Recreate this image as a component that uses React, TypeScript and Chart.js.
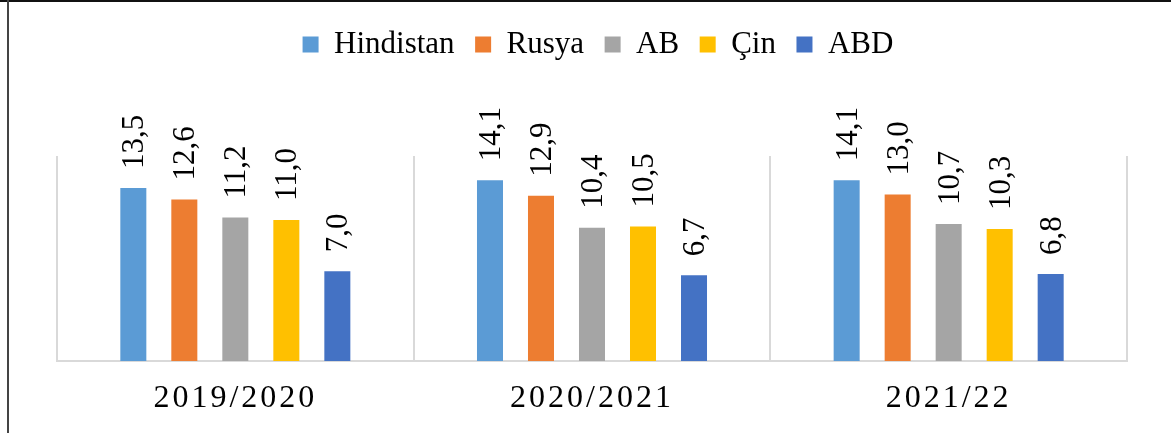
import React, { useEffect, useRef } from "react";
import { Chart, registerables, CategoryScale } from "chart.js";

Chart.register(...registerables);

class SpacedCategoryScale extends CategoryScale {
  static id = "spacedCategory";
  static defaults = CategoryScale.defaults;
  drawLabels(chartArea: any) {
    const ctx: any = this.ctx;
    ctx.save();
    ctx.letterSpacing = "3px";
    super.drawLabels(chartArea);
    ctx.restore();
  }
}
Chart.register(SpacedCategoryScale as any);

const categories = ["2019/2020", "2020/2021", "2021/22"];
const seriesNames = ["Hindistan", "Rusya", "AB", "Çin", "ABD"];
const hindistan = [13.5, 14.1, 14.1];
const rusya = [12.6, 12.9, 13.0];
const ab = [11.2, 10.4, 10.7];
const cin = [11.0, 10.5, 10.3];
const abd = [7.0, 6.7, 6.8];
const seriesValues = [hindistan, rusya, ab, cin, abd];
const seriesColors = ["#5B9BD5", "#ED7D31", "#A5A5A5", "#FFC000", "#4472C4"];
const yMin = 0;
const yMax = 16;

const FONT = "'Times New Roman', 'Liberation Serif', serif";

const fmt = (v: number) => v.toFixed(1).replace(".", ",");

const valueLabels = {
  id: "valueLabels",
  afterDatasetsDraw(chart: any) {
    const ctx = chart.ctx;
    chart.data.datasets.forEach((ds: any, di: number) => {
      const meta = chart.getDatasetMeta(di);
      meta.data.forEach((el: any, i: number) => {
        const v = ds.data[i];
        ctx.save();
        ctx.translate(el.x, el.y - 19);
        ctx.rotate(-Math.PI / 2);
        ctx.font = `31px ${FONT}`;
        ctx.fillStyle = "#000";
        ctx.textAlign = "left";
        ctx.textBaseline = "alphabetic";
        ctx.fillText(fmt(v), 0, 10);
        ctx.restore();
      });
    });
  },
};

const legendSpacer = {
  id: "legendSpacer",
  afterInit(chart: any) {
    const legend = chart.legend;
    if (!legend) return;
    const origFit = legend.fit;
    legend.fit = function () {
      origFit.call(this);
      this.height = 156;
    };
    const origDraw = legend.draw;
    legend.draw = function (...args: any[]) {
      const ctx = chart.ctx;
      ctx.save();
      ctx.translate(6, 8.5);
      origDraw.apply(this, args);
      ctx.restore();
    };
  },
};

export default function App() {
  const ref = useRef<HTMLCanvasElement>(null);
  useEffect(() => {
    if (!ref.current) return;
    const chart = new Chart(ref.current, {
      type: "bar",
      data: {
        labels: categories,
        datasets: seriesNames.map((name, i) => ({
          label: name,
          data: seriesValues[i],
          backgroundColor: seriesColors[i],
          borderWidth: 0,
          categoryPercentage: 0.715,
          barPercentage: 0.51,
        })),
      },
      options: {
        animation: false,
        responsive: false,
        layout: { padding: { left: 57, right: 44, top: 0, bottom: 0 } },
        plugins: {
          legend: {
            position: "top",
            labels: {
              boxWidth: 16,
              boxHeight: 16,
              padding: 20.5,
              color: "#000",
              font: { family: FONT, size: 31 },
            },
          },
          tooltip: { enabled: false },
        },
        scales: {
          x: {
            type: "spacedCategory" as any,
            offset: true,
            grid: {
              display: true,
              offset: true,
              drawTicks: false,
              color: "#d9d9d9",
              lineWidth: 2,
            },
            border: { display: true, color: "#d9d9d9", width: 2 },
            ticks: {
              color: "#000",
              padding: 18,
              font: { family: FONT, size: 32 },
            },
            afterFit: (scale: any) => {
              scale.height = 72;
            },
          },
          y: {
            display: false,
            min: yMin,
            max: yMax,
          },
        },
      },
      plugins: [valueLabels, legendSpacer],
    });
    return () => chart.destroy();
  }, []);

  return (
    <div style={{ position: "absolute", left: 0, top: 0, width: 1171, height: 433, background: "#fff" }}>
      <canvas ref={ref} width={1171} height={433} style={{ display: "block" }} />
      <div
        style={{
          position: "absolute",
          left: 0,
          top: 0,
          width: 1171,
          height: 0,
          borderTop: "2px solid #111",
          pointerEvents: "none",
        }}
      />
      <div
        style={{
          position: "absolute",
          left: 7,
          top: 0,
          width: 0,
          height: 433,
          borderLeft: "2px solid #444",
          pointerEvents: "none",
        }}
      />
    </div>
  );
}
